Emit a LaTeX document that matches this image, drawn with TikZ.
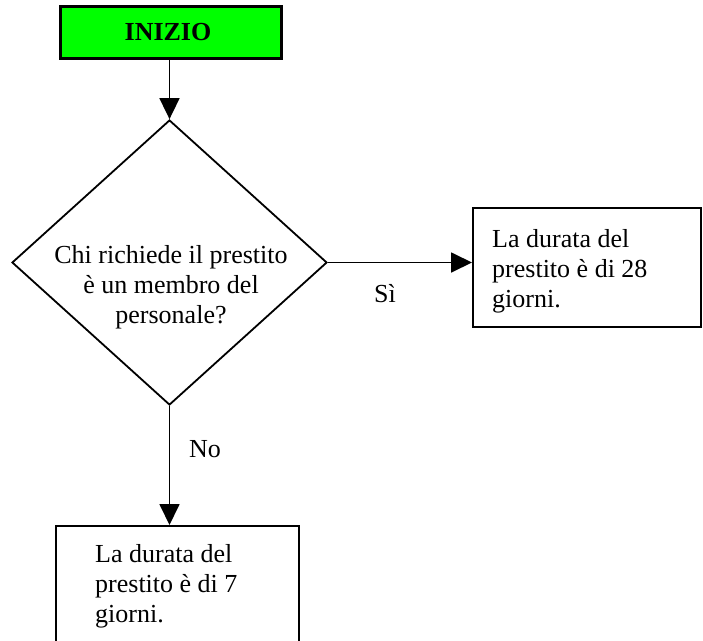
\documentclass[tikz,border=0pt]{standalone}
\usepackage{fontspec}
\setmainfont{Liberation Serif}
\usetikzlibrary{shapes.geometric,arrows.meta}
\definecolor{startgreen}{RGB}{0,255,0}
\begin{document}
\begin{tikzpicture}[x=1pt,y=-1pt,
  txt/.style={font=\fontsize{26}{30}\selectfont, inner sep=0pt},
  box/.style={draw, line width=1.8pt, inner sep=0pt, anchor=north west},
  arr/.style={line width=1.8pt, -{Triangle[length=21pt,width=20pt]}}]
\useasboundingbox (0,0) rectangle (703,640);
\clip (0,0) rectangle (703,640);
\node[box, fill=startgreen, line width=2.8pt, minimum width=221pt, minimum height=52pt] (start) at (59,5) {};
\node[txt, font=\fontsize{26}{30}\selectfont\bfseries] (starttext) at (168,32) {INIZIO};
\node[draw, diamond, line width=1.8pt, minimum width=315pt, minimum height=285pt, inner sep=0pt] (dec) at (169.5,262.5) {};
\node[txt, align=center, anchor=north] (dectext) at (171,245) {Chi richiede il prestito\\è un membro del\\personale?};
\node[box, minimum width=228pt, minimum height=119pt] (yes) at (472,207) {};
\node[txt, align=left, anchor=north west] (yestext) at (492,229) {La durata del\\prestito è di 28\\giorni.};
\node[box, minimum width=243pt, minimum height=140pt] (no) at (55,525) {};
\node[txt, align=left, anchor=north west] (notext) at (95,544) {La durata del\\prestito è di 7\\giorni.};
\draw[arr] (dec.north |- start.south) -- (dec.north);
\draw[arr] (dec.east) -- (dec.east -| yes.west);
\draw[arr] (dec.south) -- (dec.south |- no.north);
\node[txt, anchor=base] (si) at (385,302) {Sì};
\node[txt, anchor=base] (nolab) at (205,457) {No};
\end{tikzpicture}
\end{document}
